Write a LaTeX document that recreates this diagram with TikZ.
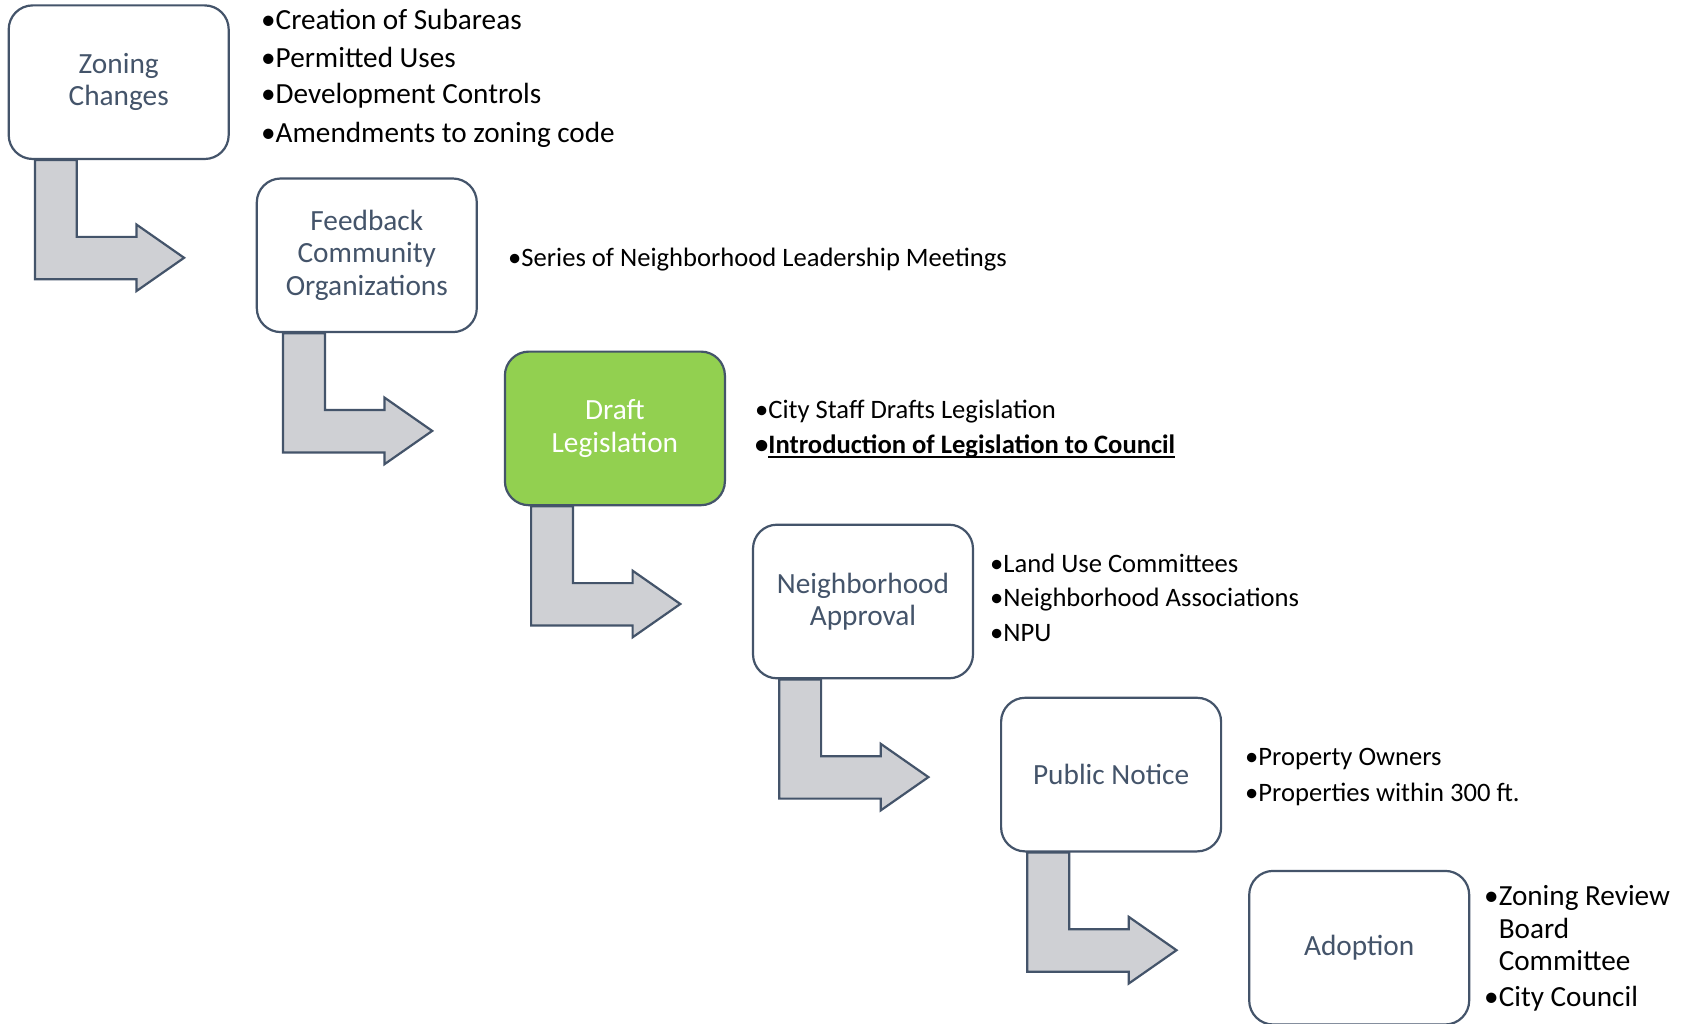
\documentclass[tikz,border=0pt]{standalone}
\usepackage{fontspec}
\setmainfont{Carlito}
\usetikzlibrary{calc}

\definecolor{slate}{HTML}{44546A}
\definecolor{arrowgray}{HTML}{CFD0D4}
\definecolor{leafgreen}{HTML}{92D050}

\pgfdeclarelayer{paper}
\pgfdeclarelayer{arrows}
\pgfsetlayers{paper,arrows,main}

% thick underline set just below the baseline
\newcommand\ulinetext[1]{\setbox0\hbox{#1}\rlap{\rule[-4.5pt]{\wd0}{1.8pt}}\box0}

\tikzset{
  stepbox/.style={draw=slate, line width=2.2pt, fill=white, rounded corners=24pt,
    minimum width=220pt, minimum height=153.6pt, inner sep=0pt, align=center,
    text=slate, font=\fontsize{29.3}{32.2}\selectfont},
  activebox/.style={stepbox, fill=leafgreen, text=white},
  bendarrow/.style={draw=slate, line width=2.2pt, fill=arrowgray, line join=miter},
  bulletline/.style={anchor=mid west, inner sep=0pt, text=black,
    font=\fontsize{26.6}{32}\selectfont},
  bigbulletline/.style={bulletline, font=\fontsize{29.2}{32}\selectfont},
}

% bent arrow hanging below a step box, pointing right towards the next step
\newcommand\flowarrow[1]{%
  \draw[bendarrow] ($(#1.south west)+(27.3,0)$) -- ++(41.9,0) -- ++(0,76.8)
    -- ++(59.6,0) -- ++(0,-12.4) -- ++(47.7,33.3) -- ++(-47.7,33.3)
    -- ++(0,-11.8) -- ++(-101.5,0) -- cycle;}

\begin{document}
\begin{tikzpicture}[x=1pt, y=-1pt]
\begin{pgfonlayer}{paper}
  \fill[white] (0,0) rectangle (1684,1024);
\end{pgfonlayer}
\useasboundingbox (0,0) rectangle (1684,1024);

% steps of the process
\node[stepbox]   (zoning)   at (118.7,82.2)  {Zoning\\Changes};
\node[stepbox]   (feedback) at (366.8,255.3) {Feedback\\Community\\Organizations};
\node[activebox] (draft)    at (614.9,428.4) {Draft\\Legislation};
\node[stepbox]   (neigh)    at (863.0,601.5) {Neighborhood\\Approval};
\node[stepbox]   (notice)   at (1111.1,774.6){Public Notice};
\node[stepbox]   (adopt)    at (1359.2,947.7){Adoption};

% arrows leading from each step to the next
\begin{pgfonlayer}{arrows}
  \flowarrow{zoning}
  \flowarrow{feedback}
  \flowarrow{draft}
  \flowarrow{neigh}
  \flowarrow{notice}
\end{pgfonlayer}

% details of each step
\node[bigbulletline] (z1) at (261,27.5)  {•Creation of Subareas};
\node[bigbulletline] (z2) at (261,65)    {•Permitted Uses};
\node[bigbulletline] (z3) at (261,101.5) {•Development Controls};
\node[bigbulletline] (z4) at (261,140)   {•Amendments to zoning code};

\node[bulletline] (f1) at (508,264.3) {•Series of Neighborhood Leadership Meetings};

\node[bulletline] (d1) at (755,416.5) {•City Staff Drafts Legislation};
\node[bulletline] (d2) at (755,451.1) {\bfseries •\ulinetext{Introduction of Legislation to Council}};

\node[bulletline] (n1) at (990,570.5) {•Land Use Committees};
\node[bulletline] (n2) at (990,604.5) {•Neighborhood Associations};
\node[bulletline] (n3) at (990,639.1) {•NPU};

\node[bulletline] (p1) at (1245,763.5) {•Property Owners};
\node[bulletline] (p2) at (1245,799.1) {•Properties within 300 ft.};

\node[bigbulletline] (a1) at (1484,903.5) {•Zoning Review};
\node[bigbulletline] (a2) at (1484,935.7) {\phantom{•}Board};
\node[bigbulletline] (a3) at (1484,967.7) {\phantom{•}Committee};
\node[bigbulletline] (a4) at (1484,1004.4){•City Council};
\end{tikzpicture}
\end{document}
